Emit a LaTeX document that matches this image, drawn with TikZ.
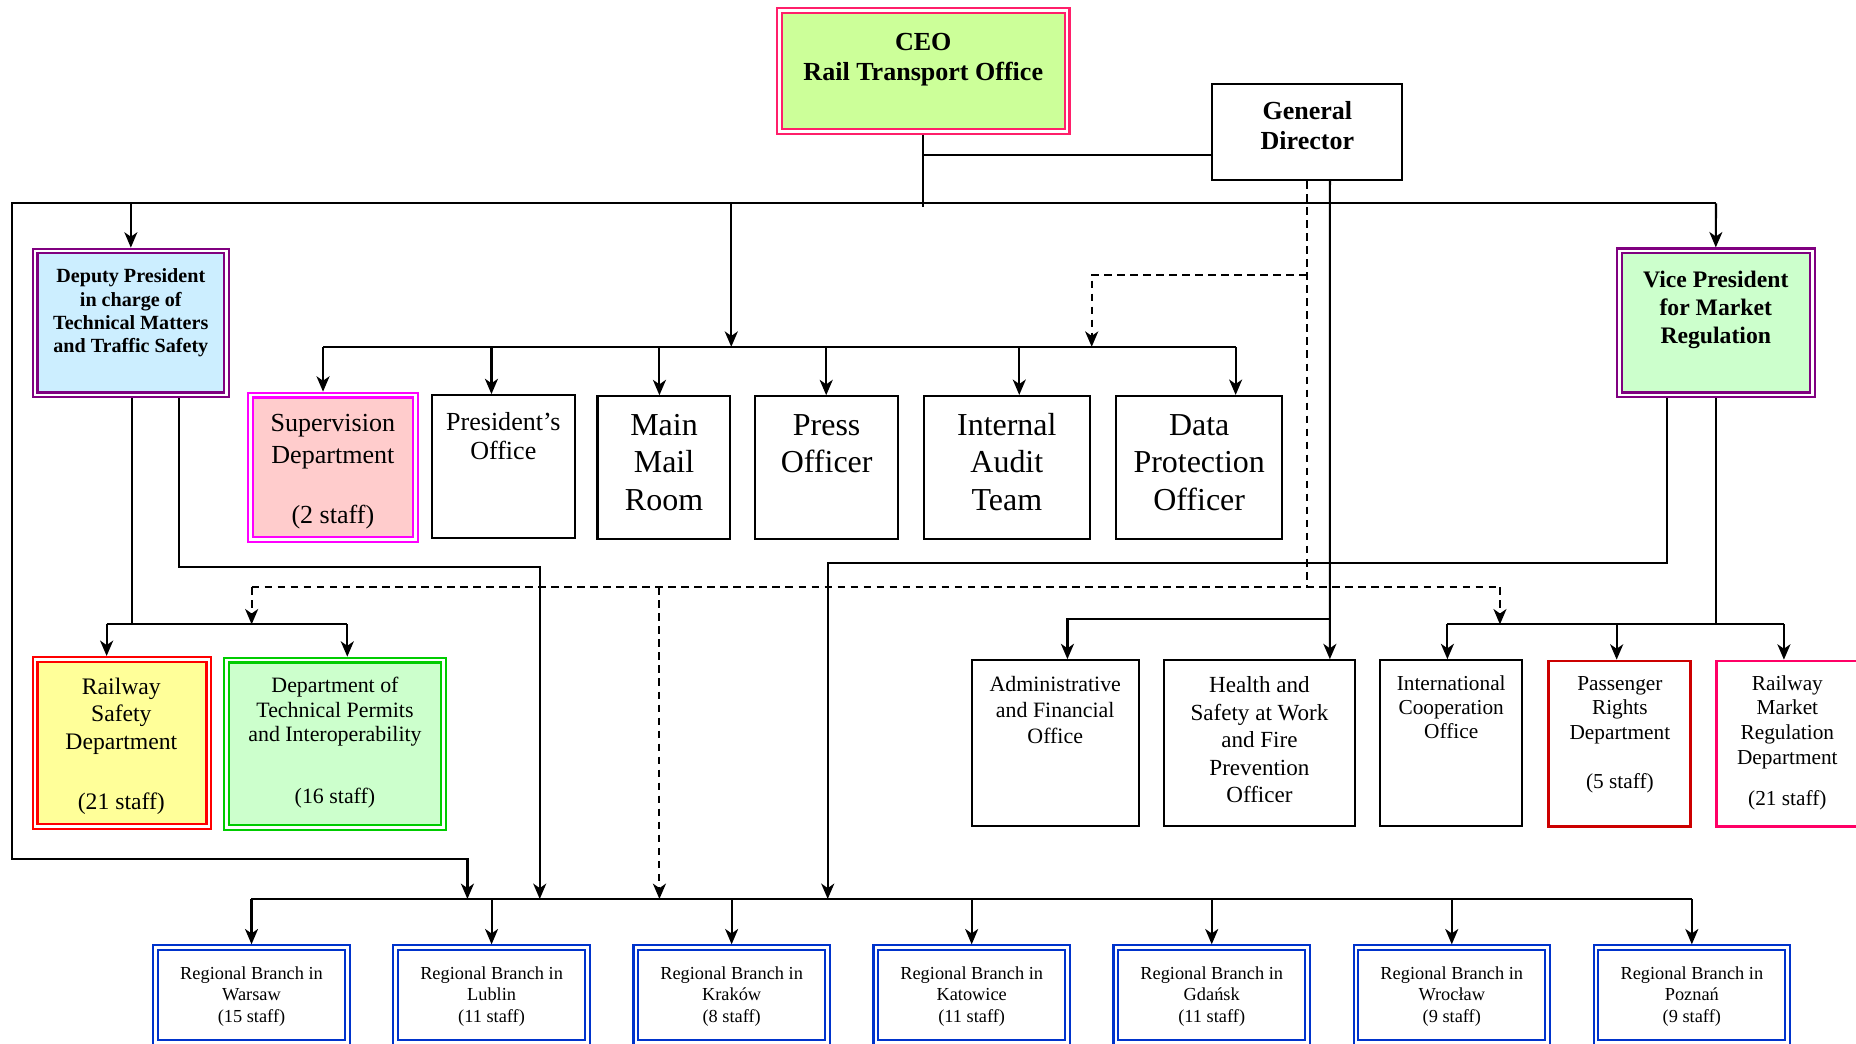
\documentclass[tikz,border=0pt]{standalone}
\usepackage{fontspec}
\setmainfont{Liberation Serif}
\usetikzlibrary{arrows.meta}
\definecolor{ceoB}{HTML}{FF1F6A}
\definecolor{ceoF}{HTML}{CCFF99}
\definecolor{purp}{HTML}{800080}
\definecolor{depF}{HTML}{CCEEFF}
\definecolor{vpF}{HTML}{CCFFCC}
\definecolor{supB}{HTML}{FF00FF}
\definecolor{supF}{HTML}{FFCCCC}
\definecolor{rsB}{HTML}{FF0000}
\definecolor{rsF}{HTML}{FFFF99}
\definecolor{dtB}{HTML}{00CC00}
\definecolor{dtF}{HTML}{CCFFCC}
\definecolor{passB}{HTML}{CC0000}
\definecolor{rmB}{HTML}{FF0066}
\definecolor{regB}{HTML}{0033CC}
\newcommand{\fsz}[2]{\fontsize{#1pt}{#2pt}\selectfont}
\begin{document}
\begin{tikzpicture}[x=1pt,y=-1pt,
  sbox/.style={draw=black, line width=1.8pt, inner sep=0pt, fill=white},
  dbox/.style={draw=#1, line width=1.8pt, double=white, double distance=2.2pt, inner sep=0pt, outer sep=2.9pt},
  txt/.style={anchor=north, inner sep=0pt, align=center},
  conn/.style={line width=1.8pt},
  arr/.style={conn, -{Stealth[length=13pt,width=11pt,inset=3.8pt]}},
  dline/.style={conn, dash pattern=on 6.5pt off 4.5pt},
  darr/.style={dline, -{Stealth[length=13pt,width=11pt,inset=3.8pt]}}]
\useasboundingbox (0,0) rectangle (1568,882);
\fill[white] (0,0) rectangle (1568,882);
\clip (0,0) rectangle (1568,882);

% ---------- named coordinates for bars ----------
\coordinate (ybig) at (0,171.8);
\coordinate (ymid) at (0,293);
\coordinate (ydash) at (0,496.2);
\coordinate (ybot) at (0,759.5);
\coordinate (cbot) at (780,175);
\coordinate (ceoj) at (780,131);
\coordinate (leftc) at (9.9,171.8);
\coordinate (loopa) at (9.9,726);
\coordinate (loopb) at (394.9,726);

% ---------- top ----------
\node[dbox=ceoB, fill=ceoF, minimum width=243.1pt, minimum height=102pt] (ceo) at (780,60.1) {};
\node[txt, font=\fsz{22}{26}\bfseries] (ceot) at (780,24) {\strut CEO\\Rail Transport Office};

\node[sbox, minimum width=160.9pt, minimum height=81.4pt] (gd) at (1104.25,111.5) {};
\node[txt, font=\fsz{22}{25}\bfseries] (gdt) at (1104.5,83.3) {\strut General\\Director};

\node[dbox=purp, fill=depF, minimum width=161.7pt, minimum height=121.5pt] (dep) at (110.55,272.85) {};
\node[txt, font=\fsz{17}{19.7}\bfseries] (dept) at (110.5,225) {\strut Deputy President\\in charge of\\Technical Matters\\and Traffic Safety};

\node[dbox=purp, fill=vpF, minimum width=162.9pt, minimum height=121.7pt] (vp) at (1449.55,272.75) {};
\node[txt, font=\fsz{20}{23.6}\bfseries] (vpt) at (1449.5,226.2) {\strut Vice President\\for Market\\Regulation};

% ---------- second row ----------
\node[dbox=supB, fill=supF, minimum width=139.1pt, minimum height=121.8pt] (sup) at (281.25,394.7) {};
\node[txt, font=\fsz{22}{26.5}] (supt) at (281.2,346.2) {\strut Supervision\\Department\\[24.2pt](2 staff)};

\node[sbox, minimum width=120.6pt, minimum height=120.9pt] (pres) at (425.2,394.35) {};
\node[txt, font=\fsz{22}{24.7}] (prest) at (425.2,346) {\strut President's\\Office};

\node[sbox, minimum width=112.2pt, minimum height=120.6pt] (main) at (560.9,395.1) {};
\node[txt, font=\fsz{27}{31.7}] (maint) at (561,345.3) {\strut Main\\Mail\\Room};

\node[sbox, minimum width=120.7pt, minimum height=120.6pt] (press) at (698.35,395.1) {};
\node[txt, font=\fsz{27}{31.7}] (presst) at (698.4,345.3) {\strut Press\\Officer};

\node[sbox, minimum width=140.6pt, minimum height=120.9pt] (ia) at (850.6,395) {};
\node[txt, font=\fsz{27}{31.7}] (iat) at (850.6,345.3) {\strut Internal\\Audit\\Team};

\node[sbox, minimum width=140.6pt, minimum height=120.9pt] (dpo) at (1013.1,395) {};
\node[txt, font=\fsz{27}{31.7}] (dpot) at (1013.1,345.3) {\strut Data\\Protection\\Officer};

% ---------- third row ----------
\node[dbox=rsB, fill=rsF, minimum width=146.8pt, minimum height=141.2pt] (rs) at (103.1,627.7) {};
\node[txt, font=\fsz{20}{23.2}] (rst) at (102.5,570.1) {\strut Railway\\Safety\\Department\\[27.8pt](21 staff)};

\node[dbox=dtB, fill=dtF, minimum width=182.9pt, minimum height=141.2pt] (dt) at (283.05,628.3) {};
\node[txt, font=\fsz{18.5}{20.7}] (dtt) at (283,570.7) {\strut Department of\\Technical Permits\\and Interoperability\\[31.3pt](16 staff)};

\node[sbox, minimum width=141pt, minimum height=139.8pt] (afo) at (891.6,627.7) {};
\node[txt, font=\fsz{18.5}{21.8}] (afot) at (891.5,569) {\strut Administrative\\and Financial\\Office};

\node[sbox, minimum width=161pt, minimum height=139.8pt] (hs) at (1064.1,627.7) {};
\node[txt, font=\fsz{19.5}{23.3}] (hst) at (1064,568.6) {\strut Health and\\Safety at Work\\and Fire\\Prevention\\Officer};

\node[sbox, minimum width=120.6pt, minimum height=139.8pt] (ico) at (1225.8,627.7) {};
\node[txt, font=\fsz{18}{20.4}] (icot) at (1226,568.6) {\strut International\\Cooperation\\Office};

\node[sbox, draw=passB, line width=2.2pt, minimum width=120pt, minimum height=139.7pt] (prd) at (1368.3,628.25) {};
\node[txt, font=\fsz{18}{20.8}] (prdt) at (1368.5,568.3) {\strut Passenger\\Rights\\Department\\[20.6pt](5 staff)};

\node[sbox, draw=rmB, line width=2.2pt, minimum width=120pt, minimum height=139.7pt] (rmr) at (1510.1,628.25) {};
\node[txt, font=\fsz{18}{20.9}] (rmrt) at (1510,568.3) {\strut Railway\\Market\\Regulation\\Department\\[13.7pt](21 staff)};

% ---------- regional branches ----------
\foreach \i/\nm/\city/\st in {0/rbwa/Warsaw/15, 1/rblu/Lublin/11, 2/rbkr/Kraków/8, 3/rbka/Katowice/11, 4/rbgd/Gdańsk/11, 5/rbwr/Wrocław/9, 6/rbpo/Poznań/9}{
  \pgfmathsetmacro{\cx}{212.5+202.8*\i}
  \node[dbox=regB, fill=white, minimum width=161.9pt, minimum height=79.8pt] (\nm) at (\cx,840.6) {};
  \node[txt, font=\fsz{15.5}{17.9}] (\nm t) at (\cx,814.9) {\strut Regional Branch in\\\city\\(\st\ staff)};
  \draw[arr] (\nm.north |- ybot) -- (\nm.north);
}

% ---------- connectors ----------
% CEO and General Director
\draw[conn] (ceo.south) -- (cbot);
\draw[conn] (gd.west |- ceoj) -- (ceoj);
% big line and left loop
\draw[arr] (vp.north |- ybig) -- (leftc) -- (loopa) -- (loopb) -- (loopb |- ybot);
\draw[arr] (dep.north |- ybig) -- (dep.north);
\draw[arr] (1449.7,171.8) -- (vp.north);
\draw[arr] (617.8,171.8) -- (617.8,293);
% middle bar
\draw[conn] (272.9,293) -- (1043.9,293);
\draw[arr] (272.9,293) -- (272.9,293 |- sup.north);
\draw[arr] (415.2,293) -- (415.2,293 |- pres.north);
\draw[arr] (557.1,293) -- (557.1,293 |- main.north);
\draw[arr] (698,293) -- (698,293 |- press.north);
\draw[arr] (861.1,293) -- (861.1,293 |- ia.north);
\draw[arr] (1043.9,293) -- (1043.9,293 |- dpo.north);
% General Director dashed lines
\draw[dline] (gd.south) -- (gd.south |- ydash);
\draw[darr] (1104.2,232) -- (922.3,232) -- (922.3,293);
\draw[dline] (212.6,496.2) -- (1267.2,496.2);
\draw[darr] (212.6,496.2) -- (212.6,527.5);
\draw[darr] (1267.2,496.2) -- (1267.2,527.5);
\draw[darr] (557.1,496.2) -- (557.1,759.5);
% General Director solid line
\draw[arr] ([xshift=19.3pt]gd.south) -- (1123.5,557 |- hs.north);
\draw[arr] (1123.5,523) -- (901.8,523) -- (901.8,523 |- afo.north);
% Deputy President lines
\draw[conn] ([xshift=0.65pt]dep.south) -- (111.2,527.5);
\draw[conn] (90.1,527.5) -- (293.4,527.5);
\draw[arr] (90.1,527.5) -- (90.1,527.5 |- rs.north);
\draw[arr] (293.4,527.5) -- (293.4,527.5 |- dt.north);
\draw[arr] ([xshift=40.95pt]dep.south) -- (151.5,478.7) -- (456,478.7) -- (456,759.5);
% Vice President lines
\draw[arr] ([xshift=-40.95pt]vp.south) -- (1408.6,475.9) -- (699.3,475.9) -- (699.3,759.5);
\draw[conn] ([xshift=0.15pt]vp.south) -- (1449.7,527.5);
\draw[conn] (1222.8,527.5) -- (1507.1,527.5);
\draw[arr] (1222.8,527.5) -- (1222.8,527.5 |- ico.north);
\draw[arr] (1365.8,527.5) -- (1365.8,527.5 |- prd.north);
\draw[arr] (1507.1,527.5) -- (1507.1,527.5 |- rmr.north);
% bottom bar
\draw[conn] (212.2,759.5) -- (1429.2,759.5);
\end{tikzpicture}
\end{document}
